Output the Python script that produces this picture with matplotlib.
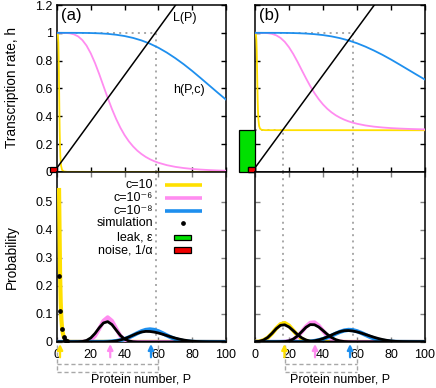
import matplotlib
matplotlib.use('Agg')
import matplotlib.pyplot as plt
from matplotlib.patches import Rectangle

plt.rcParams['font.family'] = ['Liberation Sans', 'DejaVu Sans']
FS = 9.0
FSY = 9.8

# ---------------- data ----------------
# transcription rate curves h(P,c), panel (a) (no leak) and (b) (leak 0.3)
P_h = [0, 5, 10, 15, 20, 25, 30, 35, 40, 45, 50, 55, 60, 65, 70, 75, 80, 85, 90, 95, 100]
h_blue_a = [1.0, 1.0, 0.9999, 0.9995, 0.9985, 0.9964, 0.9926, 0.9863, 0.9769, 0.9635, 0.9454,
            0.922, 0.893, 0.858, 0.818, 0.774, 0.726, 0.675, 0.623, 0.571, 0.520]
h_blue_b = [1.0, 1.0, 0.9999, 0.9997, 0.999, 0.9975, 0.9948, 0.9904, 0.9838, 0.9745, 0.9618,
            0.9454, 0.9251, 0.9006, 0.8726, 0.8418, 0.8082, 0.7725, 0.7361, 0.6997, 0.664]
P_pink = [0, 2.5, 5, 7.5, 10, 12.5, 15, 17.5, 20, 22.5, 25, 27.5, 30, 32.5, 35, 37.5, 40, 42.5,
          45, 47.5, 50, 52.5, 55, 57.5, 60, 65, 70, 75, 80, 85, 90, 95, 100]
h_pink_a = [1.0, 1.0, 0.9993, 0.9966, 0.9893, 0.9743, 0.948, 0.9078, 0.852, 0.7828, 0.703, 0.6175,
            0.533, 0.4529, 0.381, 0.3183, 0.265, 0.2206, 0.184, 0.1536, 0.129, 0.1084, 0.0917,
            0.0779, 0.0665, 0.0492, 0.037, 0.0284, 0.022, 0.0174, 0.0139, 0.0112, 0.0091]
h_pink_b = [1.0, 1.0, 0.9995, 0.9976, 0.9925, 0.982, 0.9636, 0.9355, 0.8964, 0.848, 0.7921, 0.7323,
            0.6731, 0.617, 0.5667, 0.5228, 0.4855, 0.4544, 0.4288, 0.4075, 0.3903, 0.3759, 0.3642,
            0.3545, 0.3466, 0.3344, 0.3259, 0.3199, 0.3154, 0.3122, 0.3097, 0.3078, 0.3064]
P_yel = [0, 0.5, 0.8, 1.0, 1.2, 1.4, 1.6, 1.8, 2.0, 2.4, 3, 4, 6, 100]
h_yel_a = [1.0, 0.99, 0.93, 0.82, 0.64, 0.45, 0.29, 0.18, 0.11, 0.045, 0.015, 0.004, 0.001, 0.0]
h_yel_b = [1.0, 0.993, 0.951, 0.874, 0.748, 0.615, 0.503, 0.426, 0.377, 0.3315, 0.3105, 0.3028,
           0.3007, 0.3]
# production line L(P)
L_P = [0, 75]
L_h = [0.03, 1.28]
leak_b = 0.3
noise = 0.035
# fixed points (dotted guides): P and h
fp_a_P, fp_a_h = [58.7], [1.0]
fp_b_P, fp_b_h = [16.2, 57.8], [0.3, 1.0]
# mean markers (arrows)
mean_a = [1.8, 31.5, 55.6]
mean_b = [17.3, 35.3, 55.9]
box_a = [0, 59.5]
box_b = [17.6, 60.2]

# probability distributions, panel (a)
a_yel_P = [1.2, 1.5, 1.8, 2.2, 2.6, 3, 3.5, 4, 5, 6, 8, 100]
a_yel_p = [0.55, 0.40, 0.25, 0.14, 0.08, 0.05, 0.03, 0.018, 0.007, 0.0025, 0.0004, 0]
a_yel_sim_P = [1, 2, 3, 4, 5, 6]
a_yel_sim_p = [0.236, 0.112, 0.046, 0.019, 0.007, 0.002]
a_pink_P = [0, 12.5, 15, 17.5, 20, 22.5, 25, 27.5, 30, 32.5, 35, 37.5, 40, 42.5, 45, 47.5, 100]
a_pink_p = [0, 0, 0.0003, 0.0018, 0.0074, 0.0219, 0.0475, 0.0754, 0.088, 0.0754, 0.0475, 0.0219,
            0.0074, 0.0018, 0.0003, 0, 0]
a_pink_sim_P = [0, 10, 12.5, 15, 17.5, 20, 22.5, 25, 27.5, 30, 32.5, 35, 37.5, 40, 42.5, 45, 47.5, 50, 100]
a_pink_sim_p = [0, 0, 0.0004, 0.0017, 0.0056, 0.0147, 0.0305, 0.0509, 0.068, 0.0727, 0.0622, 0.0426,
                0.0234, 0.0103, 0.0036, 0.0010, 0.0002, 0, 0]
a_blue_P = [0, 27.5, 30, 32.5, 35, 37.5, 40, 42.5, 45, 47.5, 50, 52.5, 55, 57.5, 60, 62.5, 65, 67.5,
            70, 72.5, 75, 77.5, 80, 82.5, 100]
a_blue_p = [0, 0.0003, 0.0008, 0.0017, 0.0034, 0.0062, 0.0105, 0.0164, 0.0236, 0.0313, 0.0383, 0.0432,
            0.045, 0.0432, 0.0383, 0.0313, 0.0236, 0.0164, 0.0105, 0.0062, 0.0034, 0.0017, 0.0008,
            0.0003, 0]
a_blue_sim_P = [0, 27.5, 30, 32.5, 35, 37.5, 40, 42.5, 45, 47.5, 50, 52.5, 55, 57.5, 60, 62.5, 65,
                67.5, 70, 72.5, 75, 77.5, 80, 82.5, 85, 87.5, 90, 95, 100]
a_blue_sim_p = [0, 0.0004, 0.0010, 0.0021, 0.0040, 0.0072, 0.0118, 0.0177, 0.0244, 0.0308, 0.0357,
                0.0379, 0.0375, 0.0354, 0.0321, 0.0278, 0.0230, 0.0183, 0.0139, 0.0102, 0.0071,
                0.0047, 0.0030, 0.0019, 0.0011, 0.0006, 0.0003, 0.0001, 0]

# probability distributions, panel (b)
b_yel_P = [0, 2.5, 5, 7.5, 10, 12.5, 15, 17.5, 20, 22.5, 25, 27.5, 30, 32.5, 35, 37.5, 100]
b_yel_p = [0.0006, 0.0021, 0.0063, 0.0153, 0.0302, 0.0487, 0.0636, 0.0677, 0.0586, 0.0412, 0.0236,
           0.0110, 0.0042, 0.0013, 0.0003, 0, 0]
b_yel_sim_P = [0, 2.5, 5, 7.5, 10, 12.5, 15, 17.5, 20, 22.5, 25, 27.5, 30, 32.5, 35, 37.5, 40, 100]
b_yel_sim_p = [0.0007, 0.0024, 0.0070, 0.0162, 0.0308, 0.0476, 0.0597, 0.0613, 0.0536, 0.0405,
               0.0264, 0.0148, 0.0072, 0.0030, 0.0011, 0.0003, 0, 0]
b_pink_P = [0, 15, 17.5, 20, 22.5, 25, 27.5, 30, 32.5, 35, 37.5, 40, 42.5, 45, 47.5, 50, 52.5, 55, 100]
b_pink_p = [0, 0, 0.0009, 0.0031, 0.0086, 0.0195, 0.0362, 0.0550, 0.0685, 0.0699, 0.0584, 0.0400,
            0.0224, 0.0103, 0.0039, 0.0012, 0.0003, 0, 0]
b_pink_sim_P = [0, 12.5, 15, 17.5, 20, 22.5, 25, 27.5, 30, 32.5, 35, 37.5, 40, 42.5, 45, 47.5, 50,
                52.5, 55, 57.5, 60, 100]
b_pink_sim_p = [0, 0, 0.0004, 0.0014, 0.0042, 0.0104, 0.0215, 0.0369, 0.0525, 0.0621, 0.0616,
                0.0535, 0.0409, 0.0276, 0.0163, 0.0085, 0.0039, 0.0016, 0.0006, 0.0002, 0, 0]
b_blue_P = [0, 27.5, 30, 32.5, 35, 37.5, 40, 42.5, 45, 47.5, 50, 52.5, 55, 57.5, 60, 62.5, 65, 67.5,
            70, 72.5, 75, 77.5, 80, 82.5, 85, 100]
b_blue_p = [0, 0.0004, 0.0009, 0.0019, 0.0036, 0.0064, 0.0105, 0.0160, 0.0226, 0.0297, 0.0363,
            0.0411, 0.0433, 0.0424, 0.0385, 0.0325, 0.0255, 0.0185, 0.0125, 0.0079, 0.0046, 0.0025,
            0.0013, 0.0006, 0.0003, 0]
b_blue_sim_P = [0, 27.5, 30, 32.5, 35, 37.5, 40, 42.5, 45, 47.5, 50, 52.5, 55, 57.5, 60, 62.5, 65,
                67.5, 70, 72.5, 75, 77.5, 80, 82.5, 85, 87.5, 90, 95, 100]
b_blue_sim_p = [0, 0.0005, 0.0012, 0.0024, 0.0044, 0.0076, 0.0122, 0.0181, 0.0249, 0.0316, 0.0371,
                0.0404, 0.0409, 0.0393, 0.0362, 0.0319, 0.0269, 0.0218, 0.0169, 0.0125, 0.0089,
                0.0060, 0.0039, 0.0024, 0.0015, 0.0008, 0.0005, 0.0002, 0.0001]

x_ticks = [0, 20, 40, 60, 80, 100]
h_ticks = [0, 0.2, 0.4, 0.6, 0.8, 1.0, 1.2]
h_ticklabels = ['0', '0.2', '0.4', '0.6', '0.8', '1', '1.2']
p_ticks = [0, 0.1, 0.2, 0.3, 0.4, 0.5]
p_ticklabels = ['0', '0.1', '0.2', '0.3', '0.4', '0.5']
legend_labels = ['c=10', 'c=10\u207b\u2076', 'c=10\u207b\u2078', 'simulation', 'leak, ε', 'noise, 1/α']

# ---------------- styling ----------------
YEL = '#FFE000'
PINK = '#FF8CF0'
BLUE = '#1E8FEE'
GREEN = '#00E000'
RED = '#F00000'
GREY = '#A8A8A8'
DOT = (0, (1, 2.2))
DASH = (0, (3, 2))

W, H = 436, 388
fig = plt.figure(figsize=(W / 100, H / 100), dpi=100)


def box(l, t, r, b):
    return [l / W, 1 - b / H, (r - l) / W, (b - t) / H]


axA = fig.add_axes(box(57, 5, 226, 172))
axAb = fig.add_axes(box(57, 172, 226, 342))
axB = fig.add_axes(box(255, 5, 425, 172))
axBb = fig.add_axes(box(255, 172, 425, 342))


def style(ax, tickcolor='black'):
    ax.tick_params(direction='in', top=True, right=True, length=3.6, width=1.0,
                   color=tickcolor, labelsize=FS, pad=3)
    ax.tick_params(axis='x', pad=5)
    for s in ax.spines.values():
        s.set_linewidth(1.1)


for ax, lab in [(axA, '(a)'), (axB, '(b)')]:
    style(ax)
    ax.set_xlim(0, 100)
    ax.set_ylim(0, 1.2)
    ax.set_xticks(x_ticks)
    ax.set_xticklabels([])
    ax.set_yticks(h_ticks)
    ax.text(0.025, 0.985, lab, transform=ax.transAxes, ha='left', va='top', fontsize=12)

axA.set_yticklabels(h_ticklabels)
axB.set_yticklabels([])

for ax in (axAb, axBb):
    style(ax, '#808080')
    ax.set_xlim(0, 100)
    ax.set_ylim(0, 0.607)
    ax.set_xticks(x_ticks)
    ax.set_xticklabels([str(v) for v in x_ticks])
    ax.set_yticks(p_ticks)
axAb.set_yticklabels(p_ticklabels)
axBb.set_yticklabels([])

# ---- top panels ----
for ax, hy, hp, hb, fpP, fph in [
        (axA, h_yel_a, h_pink_a, h_blue_a, fp_a_P, fp_a_h),
        (axB, h_yel_b, h_pink_b, h_blue_b, fp_b_P, fp_b_h)]:
    for p, h in zip(fpP, fph):
        ax.plot([0, p], [h, h], color=GREY, lw=1.4, ls=DOT, zorder=1)
        ax.plot([p, p], [0, h], color=GREY, lw=1.4, ls=DOT, zorder=1)
    ax.plot(P_yel, hy, color=YEL, lw=1.3, zorder=3)
    ax.plot(P_pink, hp, color=PINK, lw=1.3, zorder=3)
    ax.plot(P_h, hb, color=BLUE, lw=1.3, zorder=3)
    ax.plot(L_P, L_h, color='black', lw=1.1, zorder=4)
    ax.add_patch(Rectangle((-4.2, 0), 4.2, noise, facecolor=RED, edgecolor='black',
                           lw=0.9, clip_on=False, zorder=6))

axB.add_patch(Rectangle((-9.5, 0), 9.5, leak_b, facecolor=GREEN, edgecolor='black',
                        lw=0.9, clip_on=False, zorder=5))
axB.add_patch(Rectangle((-4.2, 0), 4.2, noise, facecolor=RED, edgecolor='black',
                        lw=0.9, clip_on=False, zorder=6))

axA.text(68.6, 1.107, 'L(P)', fontsize=FS, ha='left', va='center')
axA.text(68.9, 0.59, 'h(P,c)', fontsize=FS, ha='left', va='center')

# ---- bottom panels ----
def bottom(ax, fpP, means, bx, theory, sims):
    tr = ax.get_xaxis_transform()
    for p in fpP:
        ax.plot([p, p], [1, -0.02], transform=tr, color=GREY, lw=1.4, ls=DOT,
                clip_on=False, zorder=1)
    # dashed box below axis
    l, r = bx
    ax.plot([l, l], [-0.02, -0.176], transform=tr, color=GREY, lw=1.0, ls=DASH, clip_on=False)
    ax.plot([r, r], [-0.02, -0.176], transform=tr, color=GREY, lw=1.0, ls=DASH, clip_on=False)
    ax.plot([l, r], [-0.176, -0.176], transform=tr, color=GREY, lw=1.0, ls=DASH, clip_on=False)
    ax.plot([l, r], [-0.128, -0.128], transform=tr, color=GREY, lw=1.0, ls=DASH, clip_on=False)
    for (P, p, c) in theory:
        ax.plot(P, p, color=c, lw=3.0, zorder=3, solid_capstyle='butt')
    for (P, p) in sims:
        ax.plot(P, p, color='black', lw=2.0, zorder=4)
    for m, c in zip(means, [YEL, PINK, BLUE]):
        ax.annotate('', xy=(m, -0.012), xycoords=tr, xytext=(m, -0.09), textcoords=tr,
                    arrowprops=dict(arrowstyle='-|>', color=c, lw=1.6, mutation_scale=8,
                                    shrinkA=0, shrinkB=0),
                    annotation_clip=False)


bottom(axAb, fp_a_P, mean_a, box_a,
       [(a_yel_P, a_yel_p, YEL), (a_pink_P, a_pink_p, PINK), (a_blue_P, a_blue_p, BLUE)],
       [(a_pink_sim_P, a_pink_sim_p), (a_blue_sim_P, a_blue_sim_p)])
axAb.plot(a_yel_sim_P, a_yel_sim_p, 'o', color='black', ms=2.4, zorder=5)

bottom(axBb, fp_b_P, mean_b, box_b,
       [(b_yel_P, b_yel_p, YEL), (b_pink_P, b_pink_p, PINK), (b_blue_P, b_blue_p, BLUE)],
       [(b_yel_sim_P, b_yel_sim_p), (b_pink_sim_P, b_pink_sim_p), (b_blue_sim_P, b_blue_sim_p)])

# ---- legend (manual, gnuplot style) ----
ta = axAb.transAxes
ys = [0.924, 0.847, 0.771, 0.700, 0.615, 0.540]
for y, lab in zip(ys, legend_labels):
    axAb.text(0.568, y, lab, transform=ta, ha='right', va='center', fontsize=FS,
              family=['Liberation Sans', 'DejaVu Sans'])
for y, c in zip(ys[:3], [YEL, PINK, BLUE]):
    axAb.plot([0.639, 0.858], [y, y], transform=ta, color=c, lw=2.6, solid_capstyle='butt')
axAb.plot([0.746], [ys[3]], 'o', transform=ta, color='black', ms=2.4)
axAb.add_patch(Rectangle((0.692, ys[4] - 0.016), 0.101, 0.032, transform=ta,
                         facecolor=GREEN, edgecolor='black', lw=0.9))
axAb.add_patch(Rectangle((0.692, ys[5] - 0.016), 0.101, 0.032, transform=ta,
                         facecolor=RED, edgecolor='black', lw=0.9))

# ---- axis titles ----
fig.text(12 / W, 1 - 88 / H, 'Transcription rate, h', rotation=90, ha='center', va='center',
         fontsize=FSY)
fig.text(12 / W, 1 - 257 / H, 'Probability', rotation=90, ha='center', va='center', fontsize=FSY)
fig.text(141.5 / W, 1 - 380 / H, 'Protein number, P', ha='center', va='center', fontsize=FS)
fig.text(340 / W, 1 - 380 / H, 'Protein number, P', ha='center', va='center', fontsize=FS)

fig.savefig('out.png', dpi=100)
